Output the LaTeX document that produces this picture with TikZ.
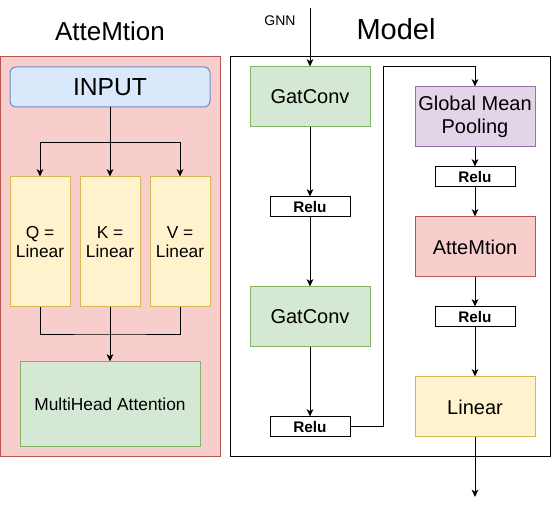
\documentclass[tikz,border=0pt]{standalone}
\usepackage{fontspec}
\setmainfont{Liberation Sans}
\usetikzlibrary{arrows.meta,calc}
\definecolor{redfill}{HTML}{F8CECC}
\definecolor{reddraw}{HTML}{B85450}
\definecolor{bluefill}{HTML}{DAE8FC}
\definecolor{bluedraw}{HTML}{6C8EBF}
\definecolor{yellowfill}{HTML}{FFF2CC}
\definecolor{yellowdraw}{HTML}{D6B656}
\definecolor{greenfill}{HTML}{D5E8D4}
\definecolor{greendraw}{HTML}{82B366}
\definecolor{purplefill}{HTML}{E1D5E7}
\definecolor{purpledraw}{HTML}{9673A6}
\begin{document}
\begin{tikzpicture}[x=0.75pt, y=-0.75pt, line width=0.75pt,
  >={Stealth[length=5.5pt, width=5pt, inset=1.5pt]},
  box/.style={draw, inner sep=0pt, align=center, minimum width=90pt, minimum height=45pt, font=\fontsize{15}{17.5}\selectfont},
  relubox/.style={draw, fill=white, inner sep=0pt, minimum width=60pt, minimum height=15pt, font=\fontsize{11.5}{13}\selectfont\bfseries},
  qkvbox/.style={draw=yellowdraw, fill=yellowfill, inner sep=0pt, align=center, minimum width=45pt, minimum height=97.5pt, font=\fontsize{13}{14}\selectfont}]
  \useasboundingbox (0,0) rectangle (551,506);
  % left panel
  \draw[draw=reddraw, fill=redfill] (0,57) rectangle (220,457);
  \node[font=\fontsize{19.5}{22}\selectfont] (atttitle) at (110,31) {AtteMtion};
  \node[draw=bluedraw, fill=bluefill, rounded corners=4.5pt, minimum width=150pt, minimum height=30pt, inner sep=0pt, font=\fontsize{18.5}{21}\selectfont] (input) at (110,87) {INPUT};
  \node[qkvbox] (q) at (40,242) {Q =\\Linear};
  \node[qkvbox] (k) at (110,242) {K =\\Linear};
  \node[qkvbox] (v) at (180,242) {V =\\Linear};
  \node[draw=greendraw, fill=greenfill, minimum width=135pt, minimum height=63.75pt, inner sep=0pt, font=\fontsize{13}{15}\selectfont] (mha) at (110,404.5) {MultiHead Attention};
  \coordinate (split) at (110,143);
  \coordinate (merge) at (110,335);
  \draw[->] (input.south) -- (k.north);
  \draw[->] (split) -| (q.north);
  \draw[->] (split) -| (v.north);
  \draw (q.south) |- (merge) -| (v.south);
  \draw[->] (k.south) -- (mha.north);
  % right panel
  \draw (230,57) rectangle (550,457);
  \node[font=\fontsize{21.75}{24}\selectfont] (modeltitle) at (396,29) {Model};
  \node[font=\fontsize{10.5}{12}\selectfont] (gnn) at (280,21) {GNN};
  \node[box, draw=greendraw, fill=greenfill] (gc1) at (310,97) {GatConv};
  \node[relubox] (relu1) at (310,207) {Relu};
  \node[box, draw=greendraw, fill=greenfill] (gc2) at (310,317) {GatConv};
  \node[relubox] (relu2) at (310,427) {Relu};
  \node[box, draw=purpledraw, fill=purplefill] (gmp) at (475,117) {Global Mean\\Pooling};
  \node[relubox] (relu3) at (475,177) {Relu};
  \node[box, draw=reddraw, fill=redfill] (att) at (475,247) {AtteMtion};
  \node[relubox] (relu4) at (475,317) {Relu};
  \node[box, draw=yellowdraw, fill=yellowfill] (lin) at (475,407) {Linear};
  \coordinate (gnnin) at (310,8);
  \coordinate (skipa) at (383,67);
  \coordinate (skipb) at (475,67);
  \coordinate (out) at (475,497);
  \draw[->] (gnnin) -- (gc1.north);
  \draw[->] (gc1) -- (relu1);
  \draw[->] (relu1) -- (gc2);
  \draw[->] (gc2) -- (relu2);
  \draw[->] (relu2.east) -| (skipa) -- (skipb) -- (gmp.north);
  \draw[->] (gmp) -- (relu3);
  \draw[->] (relu3) -- (att);
  \draw[->] (att) -- (relu4);
  \draw[->] (relu4) -- (lin);
  \draw[->] (lin) -- (out);
\end{tikzpicture}
\end{document}
